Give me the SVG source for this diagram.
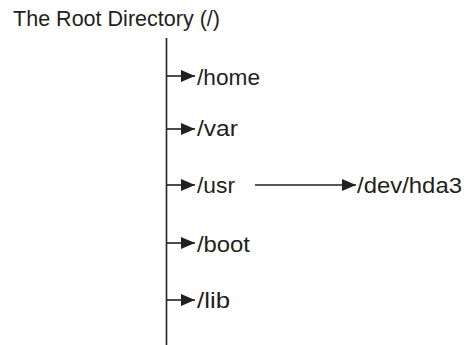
<svg xmlns="http://www.w3.org/2000/svg" width="464" height="345" viewBox="0 0 464 345">
<style>
text{font-family:"Liberation Sans",Arial,sans-serif;font-size:22px;fill:#231f20}
.ln{stroke:#231f20;stroke-width:1.6;fill:none}
</style>
<defs>
<marker id="ah" viewBox="0 0 14 12" refX="14" refY="6" markerWidth="14" markerHeight="12" markerUnits="userSpaceOnUse" orient="auto">
<path d="M0,0 L14,6 L0,12 Z" fill="#231f20"/>
</marker>
</defs>
<g id="root"><text x="13" y="26" textLength="207" lengthAdjust="spacingAndGlyphs">The Root Directory (/)</text></g>
<g id="connectors">
<line class="ln" x1="166.5" y1="38" x2="166.5" y2="345"/>
<line class="ln" x1="166.5" y1="76" x2="195" y2="76" marker-end="url(#ah)"/>
<line class="ln" x1="166.5" y1="129" x2="195" y2="129" marker-end="url(#ah)"/>
<line class="ln" x1="166.5" y1="185" x2="195" y2="185" marker-end="url(#ah)"/>
<line class="ln" x1="255" y1="185" x2="356" y2="185" marker-end="url(#ah)"/>
<line class="ln" x1="166.5" y1="243" x2="195" y2="243" marker-end="url(#ah)"/>
<line class="ln" x1="166.5" y1="300" x2="195" y2="300" marker-end="url(#ah)"/>
</g>
<g id="home"><text x="197" y="85" textLength="63" lengthAdjust="spacingAndGlyphs">/home</text></g>
<g id="var"><text x="197" y="136" textLength="41" lengthAdjust="spacingAndGlyphs">/var</text></g>
<g id="usr"><text x="197" y="193" textLength="38" lengthAdjust="spacingAndGlyphs">/usr</text></g>
<g id="dev"><text x="357" y="193" textLength="105" lengthAdjust="spacingAndGlyphs">/dev/hda3</text></g>
<g id="boot"><text x="197" y="252" textLength="53" lengthAdjust="spacingAndGlyphs">/boot</text></g>
<g id="lib"><text x="197" y="308" textLength="33" lengthAdjust="spacingAndGlyphs">/lib</text></g>
</svg>
